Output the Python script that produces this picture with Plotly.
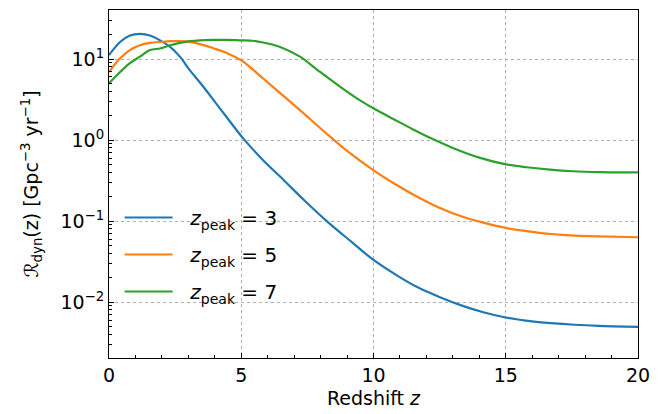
import plotly.graph_objects as go

# ---- data ----
z_peak3 = [0, 0.42, 0.79, 1.17, 1.55, 1.93, 2.31, 2.68, 3.06, 3.44, 3.94, 4.45, 5.05, 5.77, 6.59, 7.4, 8.23, 9.18, 10.0, 10.88, 11.69, 12.51, 13.4, 14.15, 15.0, 15.92, 16.7, 17.6, 18.5, 20.0]
r_peak3 = [11.2, 16.2, 19.5, 20.4, 19.5, 17.0, 14.1, 10.7, 7.24, 5.13, 3.16, 1.91, 1.07, 0.589, 0.324, 0.178, 0.100, 0.0550, 0.0331, 0.0214, 0.0151, 0.0115, 0.00891, 0.00750, 0.00646, 0.00582, 0.00550, 0.00525, 0.00509, 0.00495]

z_peak5 = [0, 0.42, 0.79, 1.17, 1.55, 1.93, 2.31, 2.68, 3.06, 3.44, 3.94, 4.45, 5.02, 5.4, 5.83, 6.47, 7.22, 7.98, 8.48, 8.99, 10.03, 10.75, 11.76, 12.51, 13.4, 14.15, 15.0, 15.92, 16.7, 17.6, 18.5, 20.0]
r_peak5 = [6.92, 10.2, 12.9, 14.8, 15.8, 16.2, 16.6, 16.6, 16.2, 15.3, 13.6, 11.9, 9.55, 7.59, 5.75, 3.80, 2.34, 1.41, 1.02, 0.741, 0.417, 0.295, 0.191, 0.145, 0.112, 0.0955, 0.0822, 0.0741, 0.0692, 0.0661, 0.0646, 0.0631]

z_peak7 = [0, 0.42, 0.79, 1.17, 1.55, 1.93, 2.31, 2.68, 3.06, 3.44, 3.94, 4.45, 5.02, 5.43, 5.83, 6.47, 7.22, 7.98, 8.73, 9.49, 10.03, 10.75, 11.5, 12.26, 13.02, 14.03, 15.01, 15.79, 16.67, 17.55, 18.56, 20.0]
r_peak7 = [5.01, 6.92, 8.91, 10.7, 12.9, 13.5, 14.8, 15.8, 16.6, 17.0, 17.2, 17.2, 17.0, 16.8, 16.0, 14.1, 10.7, 6.92, 4.57, 3.09, 2.43, 1.82, 1.35, 1.02, 0.794, 0.603, 0.501, 0.462, 0.431, 0.412, 0.402, 0.398]

series_names = ["<i>z</i><sub>peak</sub> = 3", "<i>z</i><sub>peak</sub> = 5", "<i>z</i><sub>peak</sub> = 7"]
series_colors = ["#1f77b4", "#ff7f0e", "#2ca02c"]

x_tickvals = [0, 5, 10, 15, 20]
x_ticktext = ["0", "5", "10", "15", "20"]
y_tickvals = [0.01, 0.1, 1, 10]
y_ticktext = ["10<sup>−2</sup>", "10<sup>−1</sup>", "10<sup>0</sup>", "10<sup>1</sup>"]
y_minor = [m * 10.0 ** e for e in (-3, -2, -1, 0, 1) for m in range(2, 10)]
x_minor = list(range(0, 21))

FONT = "DejaVu Sans"
PAD = "\u00a0\u00a0"

fig = go.Figure()
for i, (zz, rr) in enumerate([(z_peak3, r_peak3), (z_peak5, r_peak5), (z_peak7, r_peak7)]):
    fig.add_trace(go.Scatter(
        x=zz, y=rr, mode="lines", name=PAD + series_names[i],
        legendgroup=f"g{i}",
        line=dict(color=series_colors[i], width=2.2, shape="spline", smoothing=0.9),
    ))

axis_common = dict(
    showline=True, linecolor="black", linewidth=1, mirror=True,
    ticks="inside", tickcolor="black", ticklen=5, tickwidth=1,
    showgrid=True, gridcolor="#b0b0b0", griddash="dot", gridwidth=1,
    zeroline=False, automargin=False,
    tickfont=dict(family=FONT, size=19, color="black"),
)

fig.update_xaxes(
    **axis_common,
    range=[0, 20],
    tickmode="array", tickvals=x_tickvals, ticktext=x_ticktext,
    minor=dict(tickmode="array", tickvals=x_minor, ticks="inside", ticklen=3, tickcolor="black", showgrid=False),
    title=dict(text="Redshift <i>z</i>", font=dict(family=FONT, size=19, color="black"), standoff=6),
)
fig.update_yaxes(
    **axis_common,
    type="log",
    range=[-2.69, 1.605],
    tickmode="array", tickvals=y_tickvals, ticktext=y_ticktext,
    minor=dict(tickmode="array", tickvals=y_minor, ticks="inside", ticklen=3, tickcolor="black", showgrid=False),
    title=dict(text="ℛ<sub>dyn</sub>(z) [Gpc<sup>−3</sup> yr<sup>−1</sup>]", font=dict(family=FONT, size=19, color="black"), standoff=16),
)

fig.update_layout(
    width=666, height=414,
    margin=dict(l=109, r=28, t=10, b=56),
    paper_bgcolor="white", plot_bgcolor="white",
    font=dict(family=FONT, size=19, color="black"),
    showlegend=True,
    legend=dict(
        x=0.02, y=0.135, xanchor="left", yanchor="bottom",
        bgcolor="rgba(0,0,0,0)", borderwidth=0,
        font=dict(family=FONT, size=20, color="black"),
        traceorder="grouped", tracegroupgap=8, itemwidth=48,
    ),
)

fig.write_html("out.html", config={"displayModeBar": False},
               post_script="document.body.style.margin='0';")
